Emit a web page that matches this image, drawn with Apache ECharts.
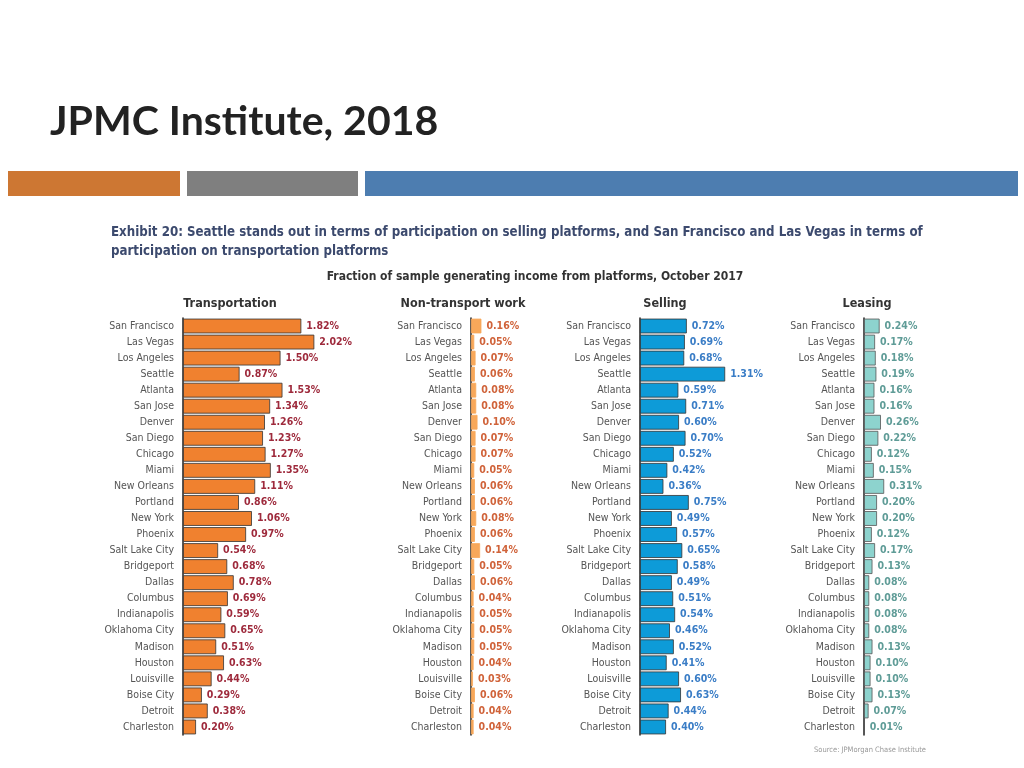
<!DOCTYPE html>
<html><head><meta charset="utf-8">
<script src="https://cdn.jsdelivr.net/npm/echarts@6/dist/echarts.min.js"></script>
<style>html,body{margin:0;padding:0;background:#fff}#c{width:1024px;height:768px}</style>
</head><body><div id="c"></div>
<script>
const cities = ["San Francisco","Las Vegas","Los Angeles","Seattle","Atlanta","San Jose","Denver","San Diego","Chicago","Miami","New Orleans","Portland","New York","Phoenix","Salt Lake City","Bridgeport","Dallas","Columbus","Indianapolis","Oklahoma City","Madison","Houston","Louisville","Boise City","Detroit","Charleston"];
const transport = [1.82,2.02,1.50,0.87,1.53,1.34,1.26,1.23,1.27,1.35,1.11,0.86,1.06,0.97,0.54,0.68,0.78,0.69,0.59,0.65,0.51,0.63,0.44,0.29,0.38,0.20];
const nonTransport = [0.16,0.05,0.07,0.06,0.08,0.08,0.10,0.07,0.07,0.05,0.06,0.06,0.08,0.06,0.14,0.05,0.06,0.04,0.05,0.05,0.05,0.04,0.03,0.06,0.04,0.04];
const selling = [0.72,0.69,0.68,1.31,0.59,0.71,0.60,0.70,0.52,0.42,0.36,0.75,0.49,0.57,0.65,0.58,0.49,0.51,0.54,0.46,0.52,0.41,0.60,0.63,0.44,0.40];
const leasing = [0.24,0.17,0.18,0.19,0.16,0.16,0.26,0.22,0.12,0.15,0.31,0.20,0.20,0.12,0.17,0.13,0.08,0.08,0.08,0.08,0.13,0.10,0.10,0.13,0.07,0.01];
const panelTitles = ["Transportation","Non-transport work","Selling","Leasing"];

const FONT = "'Liberation Sans Narrow','DejaVu Sans Condensed',sans-serif";
const K = 65; // px per percent
const panels = [
  {data: transport, axisX: 183, max: 2.5, color: '#F0812F', label: '#9E2A3C', titleX: 225, border: '#333'},
  {data: nonTransport, axisX: 471, max: 0.5, color: '#F8A85A', label: '#D0633A', titleX: 458, border: '#F8A85A'},
  {data: selling, axisX: 640, max: 1.5, color: '#0D9BD8', label: '#3A7DC6', titleX: 660, border: '#333'},
  {data: leasing, axisX: 864, max: 0.5, color: '#8DD3CE', label: '#5F9C97', titleX: 862, border: '#555'}
];
const grids = [], xAxes = [], yAxes = [], series = [];
panels.forEach((p, i) => {
  grids.push({left: p.axisX, top: 318, width: p.max * K, height: 417});
  xAxes.push({type: 'value', gridIndex: i, min: 0, max: p.max, show: false});
  yAxes.push({type: 'category', gridIndex: i, data: cities, inverse: true,
    axisLine: {lineStyle: {color: '#222', width: 1.5}},
    axisTick: {length: 6, lineStyle: {color: '#222'}},
    axisLabel: {color: '#555', fontSize: 10.5, fontFamily: FONT, margin: 9}});
  series.push({type: 'bar', xAxisIndex: i, yAxisIndex: i, data: p.data, barCategoryGap: '8%',
    itemStyle: {color: p.color, borderColor: p.border, borderWidth: 0.8},
    label: {show: true, position: 'right', distance: 5, color: p.label, fontSize: 10.5,
      fontWeight: 'bold', fontFamily: FONT, formatter: d => d.value.toFixed(2) + '%'}});
});
const titles = [
  {text: 'JPMC Institute, 2018', left: 45, top: 96, textStyle: {fontFamily: 'Lato', fontWeight: 'bold', fontSize: 41, color: '#222'}},
  {text: 'Exhibit 20: Seattle stands out in terms of participation on selling platforms, and San Francisco and Las Vegas in terms of\nparticipation on transportation platforms',
   left: 106, top: 218, textStyle: {fontFamily: FONT, fontWeight: 'bold', fontSize: 13.2, lineHeight: 19, color: '#3C4A6E'}},
  {text: 'Fraction of sample generating income from platforms, October 2017', left: 530, top: 266, textAlign: 'center',
   textStyle: {fontFamily: FONT, fontWeight: 'bold', fontSize: 12, color: '#333'}},
  {text: 'Source: JPMorgan Chase Institute', left: 921, top: 741, textAlign: 'right',
   textStyle: {fontFamily: FONT, fontSize: 7.5, color: '#999', fontWeight: 'normal'}}
];
panels.forEach((p, i) => titles.push({text: panelTitles[i], left: p.titleX, top: 292, textAlign: 'center',
  textStyle: {fontFamily: FONT, fontWeight: 'bold', fontSize: 12.5, color: '#333'}}));

const chart = echarts.init(document.getElementById('c'), null, {renderer: 'canvas'});
chart.setOption({
  animation: false,
  title: titles,
  grid: grids, xAxis: xAxes, yAxis: yAxes, series: series,
  graphic: [
    {type: 'rect', shape: {x: 8, y: 171, width: 172, height: 25}, style: {fill: '#CD7733'}},
    {type: 'rect', shape: {x: 187, y: 171, width: 171, height: 25}, style: {fill: '#7F7F7F'}},
    {type: 'rect', shape: {x: 365, y: 171, width: 653, height: 25}, style: {fill: '#4D7DB0'}}
  ]
});
</script></body></html>
